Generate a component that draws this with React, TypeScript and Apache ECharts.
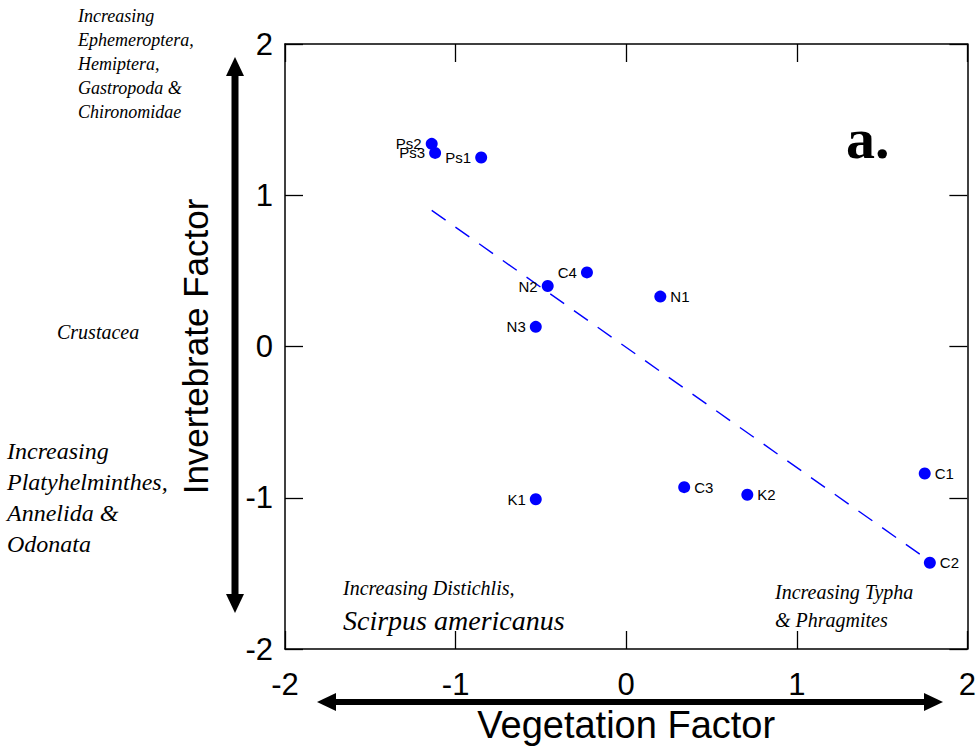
import React, { useEffect, useRef } from "react";
import * as echarts from "echarts";

const siteNames = ["Ps2", "Ps3", "Ps1", "C4", "N2", "N1", "N3", "K1", "C3", "K2", "C1", "C2"];
const vegetationScores = [-1.14, -1.12, -0.85, -0.23, -0.46, 0.2, -0.53, -0.53, 0.34, 0.71, 1.75, 1.78];
const invertebrateScores = [1.34, 1.28, 1.25, 0.49, 0.4, 0.33, 0.13, -1.01, -0.93, -0.98, -0.84, -1.43];
const labelSides = ["left", "left", "left", "left", "left", "right", "left", "left", "right", "right", "right", "right"];
const trendVegetation = [-1.14, 1.78];
const trendInvertebrate = [0.9, -1.42];
const axisMin = -2;
const axisMax = 2;
const axisStep = 1;

const SANS = "'Liberation Sans', Arial, sans-serif";
const SERIF = "'Liberation Serif', 'Times New Roman', serif";

export default function App() {
  const ref = useRef<HTMLDivElement>(null);

  useEffect(() => {
    if (!ref.current) return;
    const chart = echarts.init(ref.current, undefined, { renderer: "svg" });

    const points = siteNames.map((n, i) => ({
      name: n,
      value: [vegetationScores[i], invertebrateScores[i]],
      label: { position: labelSides[i] },
    }));
    const trend = trendVegetation.map((x, i) => [x, trendInvertebrate[i]]);

    const axisLine = { show: true, onZero: false, lineStyle: { color: "#000", width: 1.5 } };
    const tick = { show: true, inside: true, length: 18, lineStyle: { color: "#000", width: 1.3 } };

    const option: any = {
      animation: false,
      backgroundColor: "#fff",
      grid: { left: 285, top: 44, width: 684, height: 605, containLabel: false },
      xAxis: [
        {
          type: "value",
          position: "bottom",
          min: axisMin,
          max: axisMax,
          interval: axisStep,
          axisLine,
          axisTick: tick,
          splitLine: { show: false },
          axisLabel: { color: "#000", fontSize: 31, fontFamily: SANS, margin: 20 },
          name: "Vegetation Factor",
          nameLocation: "middle",
          nameGap: 57,
          nameTextStyle: { color: "#000", fontSize: 38, fontFamily: SANS },
        },
        {
          type: "value",
          position: "top",
          min: axisMin,
          max: axisMax,
          interval: axisStep,
          axisLine,
          axisTick: tick,
          splitLine: { show: false },
          axisLabel: { show: false },
        },
      ],
      yAxis: [
        {
          type: "value",
          position: "left",
          min: axisMin,
          max: axisMax,
          interval: axisStep,
          axisLine,
          axisTick: tick,
          splitLine: { show: false },
          axisLabel: { color: "#000", fontSize: 31, fontFamily: SANS, margin: 12 },
          name: "Invertebrate Factor",
          nameLocation: "middle",
          nameRotate: 90,
          nameGap: 72,
          nameTextStyle: { color: "#000", fontSize: 35, fontFamily: SANS },
        },
        {
          type: "value",
          position: "right",
          min: axisMin,
          max: axisMax,
          interval: axisStep,
          axisLine,
          axisTick: tick,
          splitLine: { show: false },
          axisLabel: { show: false },
        },
      ],
      series: [
        {
          type: "line",
          data: trend,
          symbol: "none",
          lineStyle: { color: "#0000ff", width: 1.4, type: [17, 12] },
          z: 1,
        },
        {
          type: "scatter",
          data: points,
          symbol: "circle",
          symbolSize: 12,
          itemStyle: { color: "#0000ff", opacity: 1 },
          label: {
            show: true,
            formatter: "{b}",
            color: "#000",
            fontSize: 15,
            fontFamily: SANS,
            distance: 4,
          },
          z: 3,
        },
      ],
      graphic: [
        // horizontal double arrow
        { type: "line", shape: { x1: 330, y1: 702, x2: 930, y2: 702 }, style: { stroke: "#000", lineWidth: 6 } },
        { type: "polygon", shape: { points: [[317, 702], [336, 693], [336, 711]] }, style: { fill: "#000" } },
        { type: "polygon", shape: { points: [[943, 702], [924, 693], [924, 711]] }, style: { fill: "#000" } },
        // vertical double arrow
        { type: "line", shape: { x1: 235, y1: 70, x2: 235, y2: 600 }, style: { stroke: "#000", lineWidth: 7 } },
        { type: "polygon", shape: { points: [[235, 57], [226, 76], [244, 76]] }, style: { fill: "#000" } },
        { type: "polygon", shape: { points: [[235, 613], [226, 594], [244, 594]] }, style: { fill: "#000" } },
        {
          type: "text",
          x: 78,
          y: 4,
          style: {
            text: "Increasing\nEphemeroptera,\nHemiptera,\nGastropoda &\nChironomidae",
            font: `italic 18px ${SERIF}`,
            lineHeight: 24,
            fill: "#000",
          },
        },
        {
          type: "text",
          x: 57,
          y: 332,
          style: { text: "Crustacea", font: `italic 20px ${SERIF}`, fill: "#000", verticalAlign: "middle" },
        },
        {
          type: "text",
          x: 7,
          y: 435,
          style: {
            text: "Increasing\nPlatyhelminthes,\nAnnelida &\nOdonata",
            font: `italic 24px ${SERIF}`,
            lineHeight: 31,
            fill: "#000",
          },
        },
        {
          type: "text",
          x: 343,
          y: 598,
          style: { text: "Increasing Distichlis,", font: `italic 20px ${SERIF}`, fill: "#000", verticalAlign: "bottom" },
        },
        {
          type: "text",
          x: 343,
          y: 634,
          style: { text: "Scirpus americanus", font: `italic 28px ${SERIF}`, fill: "#000", verticalAlign: "bottom" },
        },
        {
          type: "text",
          x: 775,
          y: 578,
          style: {
            text: "Increasing Typha\n& Phragmites",
            font: `italic 20px ${SERIF}`,
            lineHeight: 28,
            fill: "#000",
          },
        },
        {
          type: "text",
          x: 846,
          y: 167,
          style: { text: "a.", font: `bold 58px ${SERIF}`, fill: "#000", verticalAlign: "bottom" },
        },
      ],
    };

    chart.setOption(option);
    return () => chart.dispose();
  }, []);

  return (
    <div
      ref={ref}
      style={{ position: "absolute", left: 0, top: 0, width: 979, height: 751, background: "#fff" }}
    />
  );
}
